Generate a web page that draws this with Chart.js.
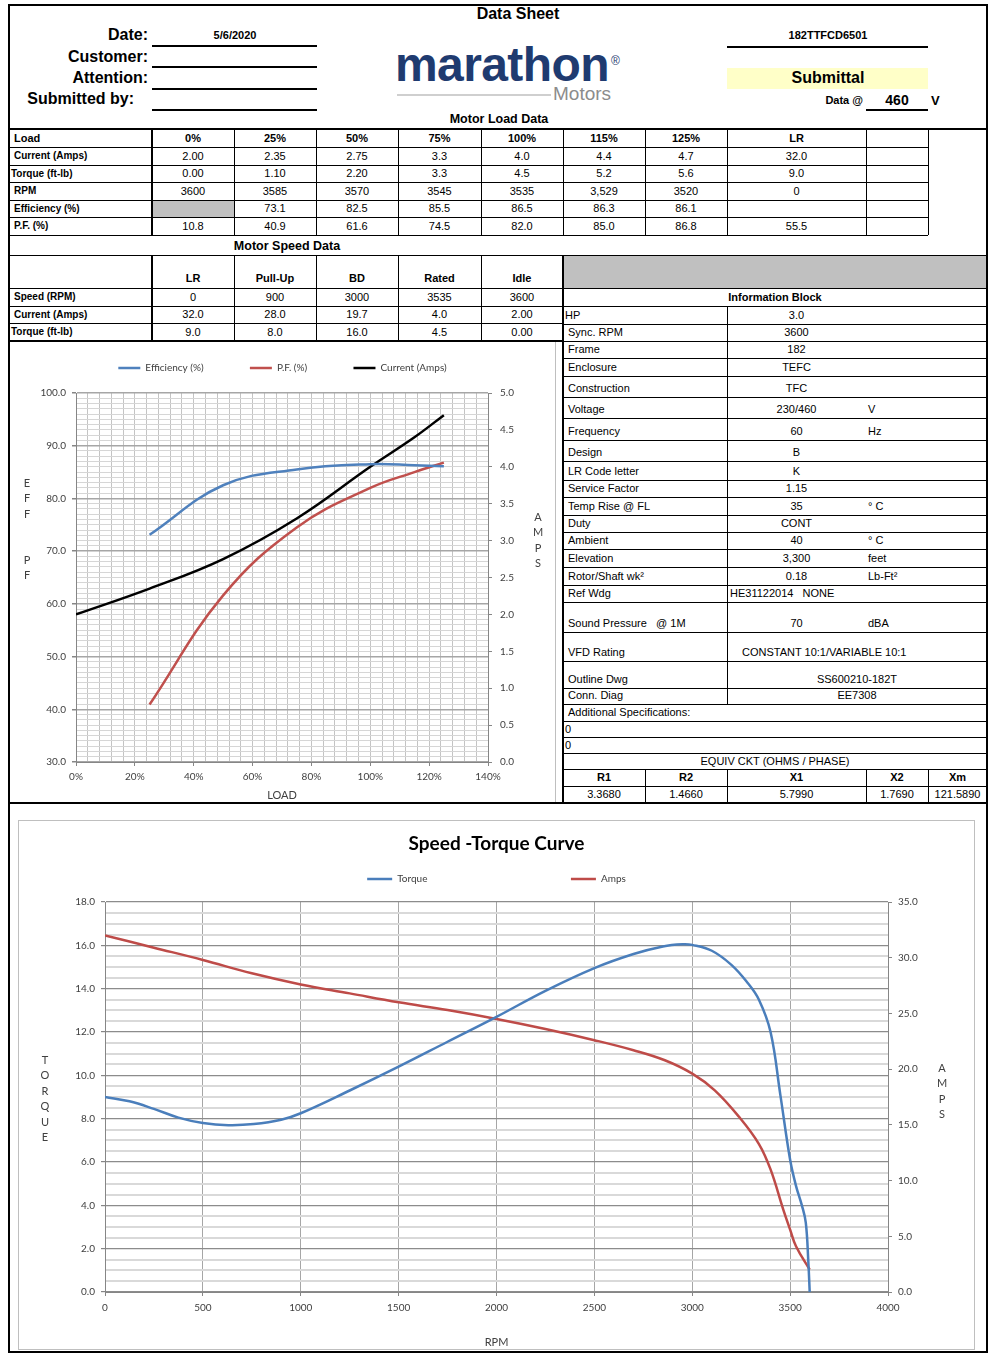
<!DOCTYPE html>
<html><head><meta charset="utf-8">
<script src="https://cdn.jsdelivr.net/npm/chart.js@4.4.1/dist/chart.umd.min.js"></script>
<style>
html,body{margin:0;padding:0;background:#fff}
body{width:988px;height:1353px;position:relative;overflow:hidden;font-family:"Liberation Sans",Arial,Helvetica,sans-serif;color:#000}
.a{position:absolute;white-space:nowrap;line-height:1}
.c{transform:translateX(-50%)}
.b{font-weight:bold}
.vt{position:absolute;font-family:Lato,sans-serif;font-size:11px;color:#404040;text-align:center;width:12px;line-height:15.4px}
canvas{position:absolute}
</style></head><body>

<!-- header -->
<div class="a b c" style="left:518px;top:6px;font-size:16px">Data Sheet</div>
<div class="a b" style="right:840px;top:27px;font-size:16px">Date:</div>
<div class="a b" style="right:840px;top:49px;font-size:16px">Customer:</div>
<div class="a b" style="right:840px;top:70px;font-size:16px">Attention:</div>
<div class="a b" style="right:854px;top:91px;font-size:16px">Submitted by:</div>
<div class="a b c" style="left:235px;top:30px;font-size:11px">5/6/2020</div>

<div class="a b" style="left:395px;top:41px;font-size:48px;color:#1f3b70;letter-spacing:-0.6px">marathon</div>
<div class="a" style="left:611px;top:55px;font-size:12px;color:#1f3b70">®</div>
<div class="a" style="left:397px;top:94px;width:154px;height:2px;background:#cfcfcf"></div>
<div class="a" style="left:553px;top:84px;font-size:19px;color:#8c8c8c">Motors</div>

<div class="a b c" style="left:828px;top:30px;font-size:11px">182TTFCD6501</div>
<div class="a" style="left:727px;top:68px;width:201px;height:21px;background:#ffffc8"></div>
<div class="a b c" style="left:828px;top:70px;font-size:16px">Submittal</div>
<div class="a b" style="right:125px;top:95px;font-size:11px">Data @</div>
<div class="a b c" style="left:897px;top:93px;font-size:14px">460</div>
<div class="a b" style="left:931px;top:94px;font-size:13px">V</div>
<div class="a b c" style="left:499px;top:113px;font-size:12.5px">Motor Load Data</div>
<div class="a b c" style="left:287px;top:240px;font-size:12.5px">Motor Speed Data</div>

<canvas id="c1" width="543" height="460" style="left:11px;top:342px"></canvas>
<canvas id="c2" width="955" height="528" style="left:19px;top:821px"></canvas>

<div class="vt" style="left:21px;top:475px">E<br>F<br>F</div>
<div class="vt" style="left:21px;top:552px">P<br>F</div>
<div class="vt" style="left:532px;top:509px">A<br>M<br>P<br>S</div>
<div class="vt" style="left:39px;top:1052px">T<br>O<br>R<br>Q<br>U<br>E</div>
<div class="vt" style="left:936px;top:1060px">A<br>M<br>P<br>S</div>

<script>
// ---------- table data ----------
const loadLabels = ['0%','25%','50%','75%','100%','115%','125%','LR'];
const loadCurrentText = ['2.00','2.35','2.75','3.3','4.0','4.4','4.7','32.0'];
const loadTorqueText = ['0.00','1.10','2.20','3.3','4.5','5.2','5.6','9.0'];
const loadRpmText = ['3600','3585','3570','3545','3535','3,529','3520','0'];
const loadEffText = ['','73.1','82.5','85.5','86.5','86.3','86.1',''];
const loadPfText = ['10.8','40.9','61.6','74.5','82.0','85.0','86.8','55.5'];

const speedLabels = ['LR','Pull-Up','BD','Rated','Idle'];
const speedRpmText = ['0','900','3000','3535','3600'];
const speedCurrentText = ['32.0','28.0','19.7','4.0','2.00'];
const speedTorqueText = ['9.0','8.0','16.0','4.5','0.00'];

const infoLabels = ['HP','Sync. RPM','Frame','Enclosure','Construction','Voltage','Frequency','Design','LR Code letter','Service Factor','Temp Rise @ FL','Duty','Ambient','Elevation','Rotor/Shaft wk\u00b2','Ref Wdg','Sound Pressure \u00a0 @ 1M','VFD Rating','Outline Dwg','Conn. Diag'];
const infoValues = ['3.0','3600','182','TEFC','TFC','230/460','60','B','K','1.15','35','CONT','40','3,300','0.18','HE31122014 \u00a0 NONE','70','CONSTANT 10:1/VARIABLE 10:1','SS600210-182T','EE7308'];
const infoUnits = ['','','','','','V','Hz','','','','\u00b0 C','','\u00b0 C','feet','Lb-Ft\u00b2','','dBA','','',''];
const ckLabels = ['R1','R2','X1','X2','Xm'];
const ckValues = ['3.3680','1.4660','5.7990','1.7690','121.5890'];

// ---------- chart data ----------
const perfLoad = [0, 0.25, 0.50, 0.75, 1.00, 1.15, 1.25];
const perfEfficiency = [null, 73.1, 82.5, 85.5, 86.5, 86.3, 86.1];
const perfPF = [null, 40.9, 61.6, 74.5, 82.0, 85.0, 86.8];
const perfCurrent = [2.00, 2.35, 2.75, 3.3, 4.0, 4.4, 4.7];

const torqueRpm = [0, 125, 250, 375, 500, 630, 760, 900, 1000, 1250, 1500, 1750, 2000, 2250, 2500, 2700, 2850, 2950, 3000, 3100, 3200, 3280, 3340, 3400, 3450, 3500, 3530, 3560, 3580, 3593, 3600];
const torqueValues = [9.0, 8.8, 8.45, 8.05, 7.8, 7.7, 7.75, 7.95, 8.25, 9.3, 10.4, 11.55, 12.7, 13.9, 14.95, 15.6, 15.95, 16.05, 16.02, 15.75, 15.1, 14.3, 13.5, 12.0, 9.1, 6.1, 4.9, 4.0, 3.2, 1.4, 0.0];
const ampsRpm = [0, 250, 500, 750, 1000, 1250, 1500, 1750, 2000, 2250, 2500, 2700, 2860, 3000, 3115, 3240, 3340, 3400, 3465, 3500, 3530, 3600];
const ampsValues = [32.0, 30.9, 29.8, 28.6, 27.6, 26.8, 26.0, 25.3, 24.5, 23.6, 22.6, 21.7, 20.8, 19.6, 18.1, 15.7, 13.3, 11.0, 7.4, 5.6, 4.1, 2.0];

// ---------- drawing helpers ----------
function box(x, y, w, h, text, css) {
  const d = document.createElement('div');
  d.style.cssText = `position:absolute;left:${x}px;top:${y}px;width:${w}px;height:${h}px;box-sizing:border-box;display:flex;align-items:center;justify-content:center;white-space:nowrap;line-height:1;font-size:11px;` + (css || '');
  d.textContent = text;
  document.body.appendChild(d);
  return d;
}
function hline(x1, x2, y, t, col) { box(x1, y - t / 2, x2 - x1, t, '', 'background:' + (col || '#000')); }
function vline(x, y1, y2, t, col) { box(x - t / 2, y1, t, y2 - y1, '', 'background:' + (col || '#000')); }

// ---------- table 1 : motor load data ----------
const c1 = [10,152,234,316,398,481,563,645,727,866,928];
const r1 = [130,147.5,165,182.5,200,217.5,235];
const rows1 = [['Load', loadLabels.concat([''])],
  ['Current (Amps)', loadCurrentText.concat([''])],
  ['Torque (ft-lb)', loadTorqueText.concat([''])],
  ['RPM', loadRpmText.concat([''])],
  ['Efficiency (%)', loadEffText.concat([''])],
  ['P.F. (%)', loadPfText.concat([''])]];
rows1.forEach((row, ri) => {
  const y = r1[ri], h = r1[ri + 1] - r1[ri];
  box(c1[0], y, c1[1] - c1[0], h, row[0], 'justify-content:flex-start;font-weight:bold;padding-left:' + (row[0].startsWith('Torque') ? 1 : 4) + 'px;font-size:' + (ri === 0 ? 11 : 10) + 'px');
  row[1].forEach((t, ci) => {
    const x = c1[ci + 1], w = c1[ci + 2] - c1[ci + 1];
    const bg = (ri === 4 && ci === 0) ? 'background:#c0c0c0;' : '';
    box(x, y, w, h, t, bg + (ri === 0 ? 'font-weight:bold;' : ''));
  });
});
r1.forEach((y, i) => { if (i > 0) hline(10, 928, y, 1); });
c1.forEach((x, i) => { if (i > 0) vline(x, 130, 235, i === 1 ? 2 : 1); });

// ---------- table 2 : motor speed data ----------
const c2 = [10,152,234,316,398,481,563];
const r2 = [256,288,306,323.5,341];
const rows2 = [['', speedLabels], ['Speed (RPM)', speedRpmText], ['Current (Amps)', speedCurrentText], ['Torque (ft-lb)', speedTorqueText]];
rows2.forEach((row, ri) => {
  const y = r2[ri], h = r2[ri + 1] - r2[ri];
  box(c2[0], y, c2[1] - c2[0], h, row[0], 'justify-content:flex-start;font-weight:bold;font-size:10px;padding-left:' + (row[0].startsWith('Torque') ? 1 : 4) + 'px');
  row[1].forEach((t, ci) => {
    box(c2[ci + 1], y, c2[ci + 2] - c2[ci + 1], h, t, ri === 0 ? 'font-weight:bold;align-items:flex-end;padding-bottom:4px' : '');
  });
});
r2.forEach((y, i) => { if (i > 0 && i < r2.length - 1) hline(10, 563, y, 1); });
c2.forEach((x, i) => { if (i > 0 && i < c2.length - 1) vline(x, 256, 341, i === 1 ? 2 : 1); });

// ---------- information block ----------
box(563, 256, 424, 32, '', 'background:#c0c0c0');
box(563, 288, 424, 18, 'Information Block', 'font-weight:bold;align-items:flex-end;padding-bottom:3px');
hline(563, 987, 288, 1);
hline(563, 987, 306, 1);
const infoEdges = [306,324,341,358,376,397,418,440,461,480,497,515,532,549,567,585,602,632,661,688,704];
infoLabels.forEach((lab, i) => {
  const y = infoEdges[i], h = infoEdges[i + 1] - y;
  const al = 'align-items:flex-end;padding-bottom:3px;';
  box(563, y, 164, h, lab, al + 'justify-content:flex-start;padding-left:' + (i === 0 ? 2 : 5) + 'px');
  const v = infoValues[i];
  if (lab === 'Ref Wdg') box(730, y, 250, h, v, al + 'justify-content:flex-start');
  else if (lab === 'VFD Rating') box(742, y, 240, h, v, al + 'justify-content:flex-start');
  else if (lab === 'Outline Dwg' || lab === 'Conn. Diag') box(727, y, 260, h, v, al);
  else box(727, y, 139, h, v, al);
  if (infoUnits[i]) box(868, y, 60, h, infoUnits[i], al + 'justify-content:flex-start');
  hline(563, 987, infoEdges[i + 1], 1);
});
vline(727, 306, 704, 1);
box(563, 704, 424, 17, 'Additional Specifications:', 'justify-content:flex-start;padding-left:5px;align-items:flex-end;padding-bottom:3px');
hline(563, 987, 721, 1);
box(563, 721, 424, 16, '0', 'justify-content:flex-start;padding-left:2px;align-items:flex-end;padding-bottom:2px');
hline(563, 987, 737, 1);
box(563, 737, 424, 16, '0', 'justify-content:flex-start;padding-left:2px;align-items:flex-end;padding-bottom:2px');
hline(563, 987, 753, 1);
box(563, 753, 424, 16, 'EQUIV CKT (OHMS / PHASE)', 'align-items:flex-end;padding-bottom:2px');
hline(563, 987, 769, 1);
const ckEdges = [563,645,727,866,928,987];
ckLabels.forEach((t, i) => {
  box(ckEdges[i], 769, ckEdges[i + 1] - ckEdges[i], 17, t, 'font-weight:bold');
  box(ckEdges[i], 786, ckEdges[i + 1] - ckEdges[i], 17, ckValues[i], '');
  if (i > 0) vline(ckEdges[i], 769, 803, 1);
});
hline(563, 987, 786, 1);

// ---------- heavy frame lines ----------
hline(10, 987, 129, 2);
hline(10, 987, 255.5, 1.5);
hline(10, 563, 341, 2);
vline(563, 255, 803, 2);
hline(10, 987, 803, 2.5);
[46, 67, 89, 110].forEach(y => hline(152, 317, y, 1.5));
hline(727, 928, 47, 1.5);
hline(866, 928, 110, 1.5);
vline(555, 342, 802, 1, '#bfbfbf');
box(18, 820, 957, 530, '', 'border:1px solid #bfbfbf');
box(8, 4, 980, 1349, '', 'border:2px solid #000');

// ---------- charts ----------
Chart.defaults.font.family = "Lato, 'Liberation Sans', sans-serif";
Chart.defaults.color = '#404040';
const tickFont = {size: 10};

// keep a gap between the legend row and the plot, then pin the plot top
function settle(chart, legendGap, target) {
  const lg = chart.legend;
  const baseFit = lg.fit.bind(lg);
  lg.fit = function () { baseFit(); this.height += legendGap; };
  chart.update('none');
  const d = target - chart.chartArea.top;
  if (Math.abs(d) > 0.3) {
    const p = chart.options.layout.padding;
    chart.options.layout.padding = {top: p.top + d, left: p.left, right: p.right, bottom: p.bottom};
    chart.update('none');
  }
}
function spacedLabels(extra) {
  return function (chart) {
    const items = Chart.defaults.plugins.legend.labels.generateLabels(chart);
    items.forEach((it, i) => { if (i < items.length - 1) it.text = it.text + extra; });
    return items;
  };
}
const em = n => '\u2003'.repeat(n);

const chart1 = new Chart(document.getElementById('c1'), {
  type: 'line',
  data: {
    datasets: [
      {label: 'Efficiency (%)', data: perfLoad.map((x, i) => ({x: x, y: perfEfficiency[i]})).filter(p => p.y !== null),
       borderColor: '#4f81bd', backgroundColor: '#4f81bd', borderWidth: 2.5, pointRadius: 0, tension: 0.4, yAxisID: 'y'},
      {label: 'P.F. (%)', data: perfLoad.map((x, i) => ({x: x, y: perfPF[i]})).filter(p => p.y !== null),
       borderColor: '#c0504d', backgroundColor: '#c0504d', borderWidth: 2.5, pointRadius: 0, tension: 0.4, yAxisID: 'y'},
      {label: 'Current (Amps)', data: perfLoad.map((x, i) => ({x: x, y: perfCurrent[i]})),
       borderColor: '#000000', backgroundColor: '#000000', borderWidth: 2.5, pointRadius: 0, tension: 0.4, yAxisID: 'y1'}
    ]
  },
  options: {
    responsive: false, animation: false, devicePixelRatio: 1,
    layout: {padding: {top: 0, left: 0, right: 0, bottom: 0}},
    plugins: {
      tooltip: {enabled: false},
      legend: {labels: {usePointStyle: true, pointStyle: 'line', pointStyleWidth: 22, padding: 30,
        font: {size: 10}, color: '#404040', generateLabels: spacedLabels(em(2) + '\u2009')}}
    },
    scales: {
      x: {type: 'linear', min: 0, max: 1.4,
        ticks: {stepSize: 0.04, autoSkip: false, maxRotation: 0, padding: 5, font: tickFont,
          callback: v => { const p = Math.round(v * 100); return p % 20 === 0 ? p + '%' : ''; }},
        grid: {color: '#c4c4c4', lineWidth: 1, tickLength: 4,
          tickColor: c => (Math.round(c.tick.value * 100) % 20 === 0 ? '#868686' : 'rgba(0,0,0,0)')},
        border: {color: '#868686'},
        title: {display: true, text: 'LOAD', font: {size: 11}, color: '#404040', padding: 0},
        afterFit: s => { s.height = 40; }},
      y: {min: 30, max: 100, position: 'left',
        ticks: {stepSize: 1, autoSkip: false, padding: 6, font: tickFont,
          callback: v => (Math.round(v) % 10 === 0 ? v.toFixed(1) : '')},
        grid: {color: c => (Math.round(c.tick.value) % 10 === 0 ? '#a6a6a6' : '#d6d6d6'),
          lineWidth: c => (Math.round(c.tick.value) % 10 === 0 ? 1.5 : 1), tickLength: 4,
          tickColor: c => (Math.round(c.tick.value) % 10 === 0 ? '#868686' : 'rgba(0,0,0,0)')},
        border: {color: '#868686'},
        afterFit: s => { s.width = 65; }},
      y1: {min: 0, max: 5, position: 'right',
        ticks: {stepSize: 0.5, padding: 8, font: tickFont, callback: v => v.toFixed(1)},
        grid: {drawOnChartArea: false, tickLength: 4, tickColor: '#868686'},
        border: {color: '#868686'},
        afterFit: s => { s.width = 66; }}
    }
  }
});
settle(chart1, 10, 51);

const chart2 = new Chart(document.getElementById('c2'), {
  type: 'line',
  data: {
    datasets: [
      {label: 'Torque', data: torqueRpm.map((x, i) => ({x: x, y: torqueValues[i]})),
       borderColor: '#4a7ebb', backgroundColor: '#4a7ebb', borderWidth: 2.5, pointRadius: 0, tension: 0.4, yAxisID: 'y'},
      {label: 'Amps', data: ampsRpm.map((x, i) => ({x: x, y: ampsValues[i]})),
       borderColor: '#be4b48', backgroundColor: '#be4b48', borderWidth: 2.5, pointRadius: 0, tension: 0.4, yAxisID: 'y1'}
    ]
  },
  options: {
    responsive: false, animation: false, devicePixelRatio: 1,
    layout: {padding: {top: 0, left: 0, right: 0, bottom: 0}},
    plugins: {
      tooltip: {enabled: false},
      title: {display: true, text: 'Speed -Torque Curve', font: {size: 19, weight: 'bold'}, color: '#000', padding: {top: 10, bottom: -7}},
      legend: {labels: {usePointStyle: true, pointStyle: 'line', pointStyleWidth: 25, padding: 26,
        font: {size: 10}, color: '#404040', generateLabels: spacedLabels(em(15) + '\u2002')}}
    },
    scales: {
      x: {type: 'linear', min: 0, max: 4000,
        ticks: {stepSize: 500, autoSkip: false, maxRotation: 0, padding: 6, font: tickFont, callback: v => String(v)},
        grid: {color: '#a6a6a6', lineWidth: 1, tickLength: 4, tickColor: '#868686'},
        border: {color: '#868686'},
        title: {display: true, text: 'RPM', font: {size: 11}, color: '#404040', padding: 0},
        afterFit: s => { s.height = 57; }},
      y: {min: 0, max: 18, position: 'left',
        ticks: {stepSize: 0.5, autoSkip: false, padding: 6, font: tickFont,
          callback: v => (Math.round(v * 2) % 4 === 0 ? v.toFixed(1) : '')},
        grid: {color: c => (Math.round(c.tick.value * 2) % 4 === 0 ? '#8c8c8c' : '#d9d9d9'),
          lineWidth: c => (Math.round(c.tick.value * 2) % 4 === 0 ? 1.2 : 2), tickLength: 4,
          tickColor: c => (Math.round(c.tick.value * 2) % 4 === 0 ? '#868686' : 'rgba(0,0,0,0)')},
        border: {color: '#868686'},
        afterFit: s => { s.width = 86; }},
      y1: {min: 0, max: 35, position: 'right',
        ticks: {stepSize: 5, padding: 6, font: tickFont, callback: v => v.toFixed(1)},
        grid: {drawOnChartArea: false, tickLength: 4, tickColor: '#868686'},
        border: {color: '#868686'},
        afterFit: s => { s.width = 86; }}
    }
  }
});
settle(chart2, 8, 81);
</script>
</body></html>
